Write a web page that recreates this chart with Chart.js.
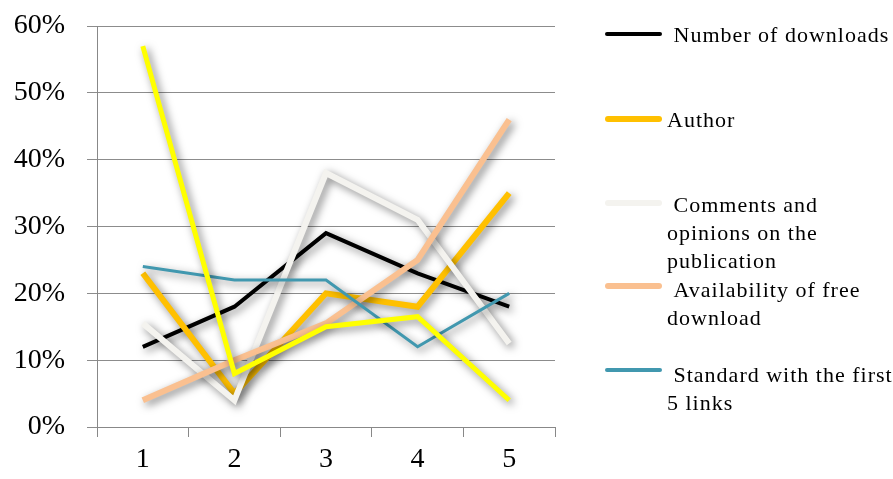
<!DOCTYPE html>
<html>
<head>
<meta charset="utf-8">
<script src="https://cdn.jsdelivr.net/npm/chart.js@4.4.1/dist/chart.umd.min.js"></script>
<style>
    body { margin: 0; background: #fff; }
    #wrap { position: relative; width: 893px; height: 479px; }
    #legend { position: absolute; left: 0; top: 0; font-family: "Liberation Serif", serif; font-size: 22px; color: #000; letter-spacing: 1px; }
    .swatch { position: absolute; width: 57px; border-radius: 3px; }
    .label { position: absolute; white-space: nowrap; line-height: 28px; }
</style>
</head>
<body>
<div id="wrap">
    <canvas id="chart" width="893" height="479"></canvas>
    <div id="legend"></div>
</div>
<script>
// categories and series (percent)
const categories = ['1', '2', '3', '4', '5'];
const downloads = [12, 18, 29, 23, 18];
const author = [23, 5, 20, 18, 35];
const comments = [15.5, 4, 38, 31, 12.5];
const freeDownload = [4, 10, 15.5, 25, 46];
const firstLinks = [24, 22, 22, 12, 20];
const otherSeries = [57, 8, 15, 16.5, 4];
const yTicks = [0, 10, 20, 30, 40, 50, 60];

const seriesNames = ['Number of downloads', 'Author', 'Comments and opinions on the publication',
    'Availability of free download', 'Standard with the first 5 links', ''];

// Legend rows: top of each swatch and text lines (leading space kept as in the original)
const legendRows = [
    { y: 32, w: 4, color: '#000000', lines: [' Number of downloads'], textTop: 21 },
    { y: 116, w: 6, color: '#FFC000', lines: ['Author'], textTop: 106 },
    { y: 200, w: 6, color: '#F4F3EF', lines: [' Comments and', 'opinions on the', 'publication'], textTop: 191 },
    { y: 283, w: 6, color: '#FAC090', lines: [' Availability of free', 'download'], textTop: 276 },
    { y: 368, w: 4, color: '#4198AF', lines: [' Standard with the first', '5 links'], textTop: 361 }
];

function buildLegend() {
    const legend = document.getElementById('legend');
    legendRows.forEach(row => {
        const sw = document.createElement('div');
        sw.className = 'swatch';
        sw.style.cssText = `left:605px;top:${row.y}px;height:${row.w}px;background:${row.color};`;
        legend.appendChild(sw);
        row.lines.forEach((txt, i) => {
            const lab = document.createElement('div');
            lab.className = 'label';
            lab.style.cssText = `left:667px;top:${row.textTop + i * 28}px;`;
            lab.textContent = txt.replace(/^ /, '\u00a0');
            legend.appendChild(lab);
        });
    });
}

// soft drop shadow behind every line, like the original
const shadowPlugin = {
    id: 'lineShadow',
    beforeDatasetDraw(chart) {
        const ctx = chart.ctx;
        ctx.save();
        ctx.shadowColor = 'rgba(0,0,0,0.5)';
        ctx.shadowBlur = 9;
        ctx.shadowOffsetX = 3;
        ctx.shadowOffsetY = 3;
    },
    afterDatasetDraw(chart) {
        chart.ctx.restore();
    }
};

function makeSet(label, data, color, width, order) {
    return {
        label: label,
        data: data,
        borderColor: color,
        backgroundColor: color,
        borderWidth: width,
        pointRadius: 0,
        tension: 0,
        fill: false,
        order: order
    };
}

document.addEventListener('DOMContentLoaded', () => {
    buildLegend();

    const ctx = document.getElementById('chart');
    new Chart(ctx, {
        type: 'line',
        data: {
            labels: categories,
            datasets: [
                makeSet(seriesNames[0], downloads, '#000000', 4, 5),
                makeSet(seriesNames[1], author, '#FFC000', 6, 4),
                makeSet(seriesNames[2], comments, '#F4F3EF', 6, 3),
                makeSet(seriesNames[3], freeDownload, '#FAC090', 6, 2),
                makeSet(seriesNames[4], firstLinks, '#4198AF', 3, 1),
                makeSet(seriesNames[5], otherSeries, '#FFFF00', 5, 0)
            ]
        },
        options: {
            responsive: false,
            animation: false,
            layout: { padding: { left: 12, right: 338, top: 26, bottom: 4 } },
            plugins: {
                legend: { display: false },
                tooltip: { enabled: false }
            },
            scales: {
                x: {
                    offset: true,
                    afterFit: axis => { axis.height = 48; },
                    grid: { offset: true, drawOnChartArea: false, color: '#888', tickLength: 10 },
                    border: { color: '#888', width: 1 },
                    ticks: {
                        color: '#000',
                        padding: 6,
                        font: { family: 'Liberation Serif', size: 28 }
                    }
                },
                y: {
                    min: 0,
                    max: 60,
                    afterBuildTicks: axis => { axis.ticks = yTicks.map(v => ({ value: v })); },
                    afterFit: axis => {
                        axis.width = 85;
                        axis.paddingTop = 0;
                        axis.paddingBottom = 0;
                    },
                    grid: { color: '#8c8c8c', tickLength: 10 },
                    border: { color: '#888', width: 1 },
                    ticks: {
                        color: '#000',
                        padding: 22,
                        font: { family: 'Liberation Serif', size: 28 },
                        callback: v => v + '%'
                    }
                }
            }
        },
        plugins: [shadowPlugin]
    });
});
</script>
</body>
</html>
